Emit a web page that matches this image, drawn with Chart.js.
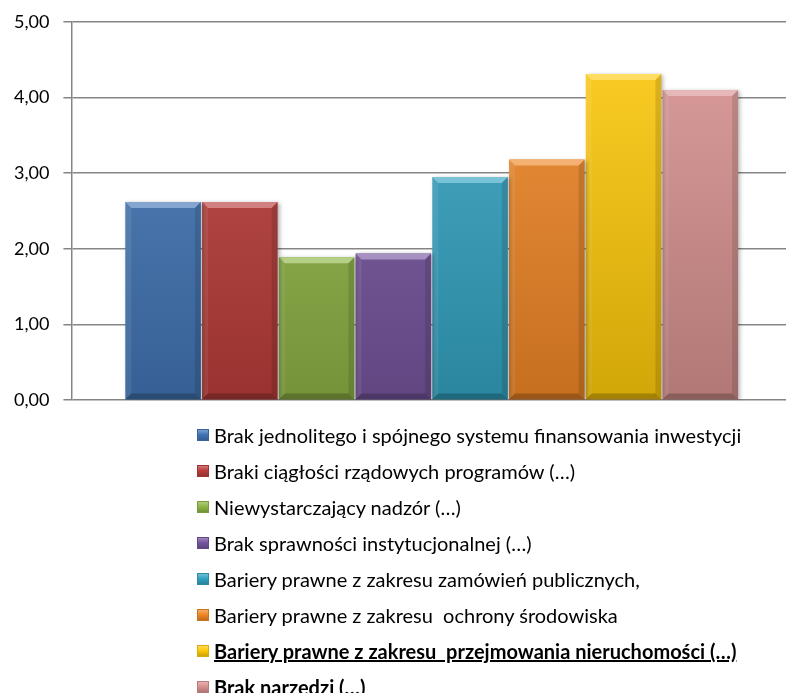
<!DOCTYPE html>
<html>
<head>
<meta charset="utf-8">
<script src="https://cdn.jsdelivr.net/npm/chart.js@4/dist/chart.umd.min.js"></script>
<style>
  html, body { margin: 0; padding: 0; background: #fff; }
  #wrap { position: relative; width: 786px; height: 693px; overflow: hidden; }
  #chartBox { position: absolute; left: 0; top: -3px; width: 792px; height: 428px; }
  #legend { position: absolute; left: 197px; top: 417px; margin: 0; padding: 0; list-style: none;
            font-family: Lato, "Liberation Sans", sans-serif; font-size: 20px; color: #000; }
  #legend li { height: 36px; display: flex; align-items: center; white-space: pre; }
  #legend .box { width: 12px; height: 12px; margin-right: 5px; flex: none; box-sizing: border-box; }
</style>
</head>
<body>
<div id="wrap">
  <div id="chartBox"><canvas id="barChart"></canvas></div>
  <ul id="legend"></ul>
</div>
<script>
// categories (one bar each, shown in the legend)
const categories = [
    "Brak jednolitego i spójnego systemu finansowania inwestycji",
    "Braki ciągłości rządowych programów (…)",
    "Niewystarczający nadzór (…)",
    "Brak sprawności instytucjonalnej (…)",
    "Bariery prawne z zakresu zamówień publicznych,",
    "Bariery prawne z zakresu  ochrony środowiska",
    "Bariery prawne z zakresu  przejmowania nieruchomości (…)",
    "Brak narzędzi (…)"
];
const values = [2.62, 2.62, 1.89, 1.94, 2.95, 3.18, 4.31, 4.10];
const colors = ["#4275b6", "#bb3d3b", "#8fb545", "#76559f", "#33a3c2", "#f08726", "#ffca0a", "#d89290"];
const boldItems = [6, 7];
const underlinedItems = [6];
const yMin = 0, yMax = 5, yStep = 1;

function shade(hex, f) {
    let n = parseInt(hex.slice(1), 16);
    let r = (n >> 16) & 255, g = (n >> 8) & 255, b = n & 255;
    let mix = (c) => f >= 0 ? Math.round(c + (255 - c) * f) : Math.round(c * (1 + f));
    return "rgb(" + mix(r) + "," + mix(g) + "," + mix(b) + ")";
}

function barFill(ctx, color) {
    let area = ctx.chart.chartArea;
    if (!area) return color;
    let g = ctx.chart.ctx.createLinearGradient(0, area.top, 0, area.bottom);
    g.addColorStop(0, shade(color, 0.12));
    g.addColorStop(1, shade(color, -0.18));
    return g;
}

// bevel / shadow look of the bars
const bevelPlugin = {
    id: 'bevel',
    beforeDatasetDraw(chart) {
        chart.ctx.save();
        chart.ctx.shadowColor = 'rgba(0,0,0,0.28)';
        chart.ctx.shadowBlur = 4;
        chart.ctx.shadowOffsetX = 2;
        chart.ctx.shadowOffsetY = 1;
    },
    afterDatasetDraw(chart, args) {
        chart.ctx.restore();
        let ctx = chart.ctx;
        let color = colors[args.index];
        args.meta.data.forEach(bar => {
            let l = bar.x - bar.width / 2, r = bar.x + bar.width / 2;
            let t = bar.y, b = bar.base, s = 6;
            ctx.save();
            // top chamfer
            ctx.fillStyle = shade(color, 0.35);
            ctx.beginPath();
            ctx.moveTo(l, t); ctx.lineTo(r, t); ctx.lineTo(r - s, t + s); ctx.lineTo(l + s, t + s);
            ctx.closePath(); ctx.fill();
            // left side
            ctx.fillStyle = 'rgba(255,255,255,0.08)';
            ctx.beginPath();
            ctx.moveTo(l, t); ctx.lineTo(l + s, t + s); ctx.lineTo(l + s, b - s); ctx.lineTo(l, b);
            ctx.closePath(); ctx.fill();
            // right side
            ctx.fillStyle = 'rgba(0,0,0,0.12)';
            ctx.beginPath();
            ctx.moveTo(r, t); ctx.lineTo(r - s, t + s); ctx.lineTo(r - s, b - s); ctx.lineTo(r, b);
            ctx.closePath(); ctx.fill();
            // bottom
            ctx.fillStyle = 'rgba(0,0,0,0.22)';
            ctx.beginPath();
            ctx.moveTo(l, b); ctx.lineTo(l + s, b - s); ctx.lineTo(r - s, b - s); ctx.lineTo(r, b);
            ctx.closePath(); ctx.fill();
            ctx.restore();
        });
    }
};

// legend as html list, built from the chart's own legend items
const htmlLegendPlugin = {
    id: 'htmlLegend',
    afterUpdate(chart) {
        let ul = document.getElementById('legend');
        ul.innerHTML = '';
        let items = chart.options.plugins.legend.labels.generateLabels(chart);
        items.forEach((item, i) => {
            let li = document.createElement('li');
            let box = document.createElement('span');
            box.className = 'box';
            let c = colors[item.datasetIndex];
            box.style.background = 'linear-gradient(' + shade(c, 0.3) + ',' + c + ' 45%,' + shade(c, -0.2) + ')';
            box.style.border = '1px solid ' + shade(c, -0.15);
            let txt = document.createElement('span');
            txt.textContent = item.text;
            if (boldItems.includes(i)) txt.style.fontWeight = 'bold';
            if (underlinedItems.includes(i)) txt.style.textDecoration = 'underline';
            li.appendChild(box);
            li.appendChild(txt);
            ul.appendChild(li);
        });
    }
};

let ctx = document.getElementById('barChart');
let datasets = categories.map((name, i) => ({
    label: name,
    data: [values[i]],
    backgroundColor: (c) => barFill(c, colors[i]),
    borderWidth: 0,
    barPercentage: 0.985,
    categoryPercentage: 0.852
}));

let myChart = new Chart(ctx, {
    type: 'bar',
    data: { labels: [''], datasets: datasets },
    plugins: [bevelPlugin, htmlLegendPlugin],
    options: {
        responsive: true,
        maintainAspectRatio: false,
        animation: false,
        layout: { padding: { left: 0, top: 0, right: 0, bottom: 0 } },
        plugins: {
            legend: { display: false },
            tooltip: { enabled: false }
        },
        scales: {
            x: {
                grid: { display: false },
                border: { display: false },
                ticks: { display: false }
            },
            y: {
                min: yMin,
                max: yMax,
                ticks: {
                    stepSize: yStep,
                    padding: 14,
                    color: '#000',
                    font: { family: 'Lato', size: 18 },
                    callback: (v) => v.toFixed(2).replace('.', ',')
                },
                grid: { color: '#858585', lineWidth: 1.5, tickLength: 8 },
                border: { color: '#858585', width: 1.5 }
            }
        }
    }
});
</script>
</body>
</html>
